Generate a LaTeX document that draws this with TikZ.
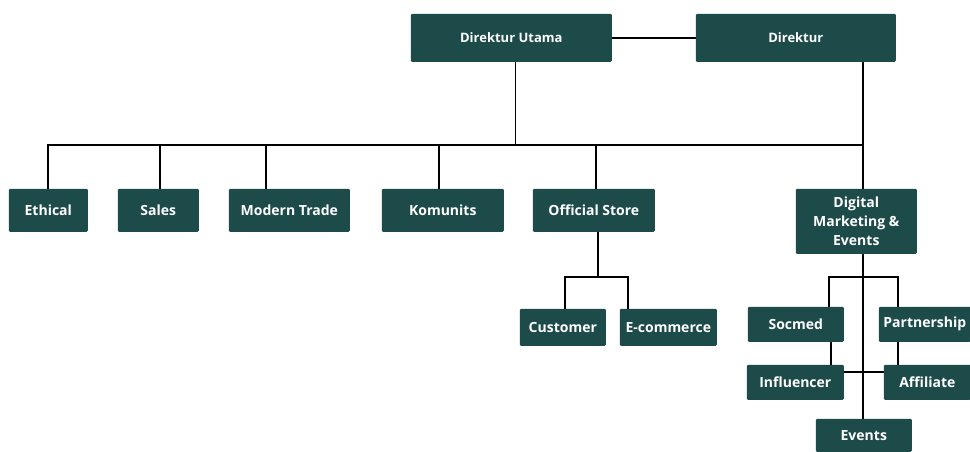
\documentclass[tikz,border=0pt]{standalone}
\usepackage{fontspec}
\setmainfont{Open Sans}
\definecolor{teal}{HTML}{1D4B49}

\begin{document}
\begin{tikzpicture}[x = 1pt,
    y = -1pt,
    line width = 1.6pt]
    % style of boxes and links
    \tikzset{unitbox/.style={fill=teal,text=white,font=\fontsize{14}{19}\selectfont\bfseries,
        inner sep=0pt,align=center,anchor=north west,rounded corners=1.2pt},
      topbox/.style={unitbox,font=\fontsize{13}{19}\selectfont\bfseries},
      link/.style={draw=black,line cap=rect}}
    \useasboundingbox (0,0) rectangle (970,451);
    % top row
    \node[topbox,minimum width=201pt,minimum height=48pt] (du)  at (410,13) {Direktur Utama};
    \node[topbox,minimum width=200pt,minimum height=48pt] (dir) at (695,13) {Direktur};
    % second row
    \node[unitbox,minimum width=79pt,minimum height=43pt]  (eth) at (8,188)   {Ethical};
    \node[unitbox,minimum width=81pt,minimum height=43pt]  (sal) at (117,188) {Sales};
    \node[unitbox,minimum width=121pt,minimum height=43pt] (mt)  at (228,188) {Modern Trade};
    \node[unitbox,minimum width=122pt,minimum height=43pt] (kom) at (381,188) {Komunits};
    \node[unitbox,minimum width=122pt,minimum height=43pt] (os)  at (532,188) {Official Store};
    \node[unitbox,minimum width=121pt,minimum height=65pt] (dig) at (795,188) {Digital\\Marketing \&\\Events};
    % under official store
    \node[unitbox,minimum width=86pt,minimum height=37pt]  (cus) at (519,308) {Customer};
    \node[unitbox,minimum width=97pt,minimum height=37pt]  (ecom) at (619,308) {E-commerce};
    % under digital marketing
    \node[unitbox,minimum width=96pt,minimum height=35pt]  (soc) at (747,306) {Socmed};
    \node[unitbox,minimum width=92pt,minimum height=35pt]  (par) at (878,306) {Partnership};
    \node[unitbox,minimum width=97pt,minimum height=35pt]  (inf) at (746,364) {Influencer};
    \node[unitbox,minimum width=87pt,minimum height=35pt]  (aff) at (883,364) {Affiliate};
    \node[unitbox,minimum width=96pt,minimum height=33pt]  (ev)  at (815,418) {Events};
    % bus points
    \coordinate (busL) at (48,145);
    \coordinate (busR) at (863,145);
    \coordinate (osL) at (565,277);
    \coordinate (osR) at (628,277);
    \coordinate (digL) at (829,277);
    \coordinate (digR) at (898,277);
    % links
    \draw[link] (du.east) -- (dir.west);
    \draw[link] ([xshift=4pt]du.south) -- ([xshift=4pt]du.south |- busL);
    \draw[link] (busL) -- (busR);
    \draw[link] (busR |- dir.south) -- (busR |- dig.north);
    \draw[link] (busL) -- (busL |- eth.north);
    \draw[link] ([xshift=1.5pt]sal.north |- busL) -- ([xshift=1.5pt]sal.north);
    \draw[link] ([xshift=-23.5pt]mt.north |- busL) -- ([xshift=-23.5pt]mt.north);
    \draw[link] ([xshift=-4pt]kom.north |- busL) -- ([xshift=-4pt]kom.north);
    \draw[link] ([xshift=2pt]os.north |- busL) -- ([xshift=2pt]os.north);
    % official store branch
    \draw[link] ([xshift=4pt]os.south) -- ([xshift=4pt]os.south |- osL);
    \draw[link] (osL) -- (osR);
    \draw[link] (osL) -- (osL |- cus.north);
    \draw[link] (osR) -- (osR |- ecom.north);
    % digital marketing branch
    \draw[link] (busR |- dig.south) -- (busR |- ev.north);
    \draw[link] (digL) -- (digR);
    \draw[link] (digL) -- (digL |- soc.north);
    \draw[link] (digR) -- (digR |- par.north);
    \draw[link] ([xshift=2pt]digL |- soc.south) -- ([xshift=2pt]digL |- inf.north);
    \draw[link] (digR |- par.south) -- (digR |- aff.north);
    \draw[link] ([yshift=-8pt]inf.north east) -- ([yshift=-8pt]aff.north west);
\end{tikzpicture}
\end{document}
